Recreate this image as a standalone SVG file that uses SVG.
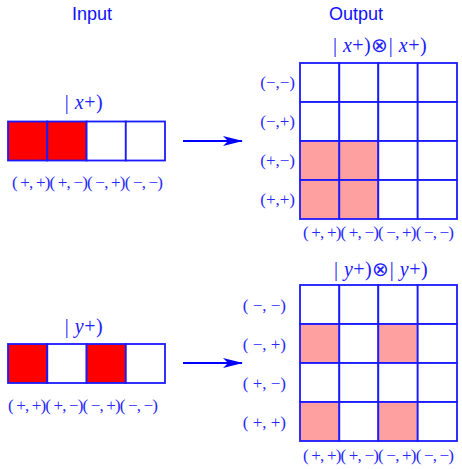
<svg xmlns="http://www.w3.org/2000/svg" width="462" height="469" viewBox="0 0 462 469">
<style>
.title{font-family:"Liberation Sans",Arial,sans-serif;font-size:18px;fill:#1010ff;text-anchor:middle}
.ket{font-family:"Liberation Serif","Times New Roman",serif;font-size:20px;fill:#2020ff;text-anchor:middle;letter-spacing:0.5px}
.lbl{font-family:"Liberation Serif","Times New Roman",serif;font-size:17px;fill:#2828ff}
.rl{font-family:"Liberation Serif","Times New Roman",serif;font-size:17px;fill:#2828ff;text-anchor:end}
.cell{fill:#fff;stroke:#1a1aff;stroke-width:1.8}
.red{fill:#ff0000;stroke:#1a1aff;stroke-width:1.8}
.pink{fill:#ffa0a0;stroke:#1a1aff;stroke-width:1.8}
.arr{stroke:#0000ff;stroke-width:2;fill:none}
</style>
<defs>
<marker id="ah" markerWidth="20" markerHeight="12" refX="19" refY="6" orient="auto" markerUnits="userSpaceOnUse">
<path d="M0,1 L20,6 L0,11 L5,6 Z" fill="#0000ff"/>
</marker>
</defs>
<text class="title" x="92" y="20">Input</text>
<text class="title" x="356" y="20">Output</text>

<g id="input-x">
<text class="ket" x="84" y="109">| <tspan font-style="italic">x</tspan>+)</text>
<rect class="red" x="8" y="121.5" width="39.3" height="39"/>
<rect class="red" x="47.3" y="121.5" width="39.3" height="39"/>
<rect class="cell" x="86.6" y="121.5" width="39.2" height="39"/>
<rect class="cell" x="125.8" y="121.5" width="39.2" height="39"/>
<text class="lbl" x="12" y="188" textLength="151" lengthAdjust="spacing">( +, +)( +, −)( −, +)( −, −)</text>
</g>

<g id="output-x">
<text class="ket" x="380" y="52">| <tspan font-style="italic">x</tspan>+)⊗| <tspan font-style="italic">x</tspan>+)</text>
<rect class="cell" x="300" y="63" width="39.3" height="39"/>
<rect class="cell" x="339.3" y="63" width="39" height="39"/>
<rect class="cell" x="378.3" y="63" width="39.4" height="39"/>
<rect class="cell" x="417.7" y="63" width="39.3" height="39"/>
<rect class="cell" x="300" y="102" width="39.3" height="39"/>
<rect class="cell" x="339.3" y="102" width="39" height="39"/>
<rect class="cell" x="378.3" y="102" width="39.4" height="39"/>
<rect class="cell" x="417.7" y="102" width="39.3" height="39"/>
<rect class="pink" x="300" y="141" width="39.3" height="39"/>
<rect class="pink" x="339.3" y="141" width="39" height="39"/>
<rect class="cell" x="378.3" y="141" width="39.4" height="39"/>
<rect class="cell" x="417.7" y="141" width="39.3" height="39"/>
<rect class="pink" x="300" y="180" width="39.3" height="39"/>
<rect class="pink" x="339.3" y="180" width="39" height="39"/>
<rect class="cell" x="378.3" y="180" width="39.4" height="39"/>
<rect class="cell" x="417.7" y="180" width="39.3" height="39"/>
<text class="rl" x="295" y="88">(−,−)</text>
<text class="rl" x="295" y="127">(−,+)</text>
<text class="rl" x="295" y="166">(+,−)</text>
<text class="rl" x="295" y="205">(+,+)</text>
<text class="lbl" x="303" y="238" textLength="151" lengthAdjust="spacing">( +, +)( +, −)( −, +)( −, −)</text>
</g>

<g id="input-y">
<text class="ket" x="84" y="333">| <tspan font-style="italic">y</tspan>+)</text>
<rect class="red" x="8" y="344" width="39.3" height="39"/>
<rect class="cell" x="47.3" y="344" width="39.3" height="39"/>
<rect class="red" x="86.6" y="344" width="39.2" height="39"/>
<rect class="cell" x="125.8" y="344" width="39.2" height="39"/>
<text class="lbl" x="8" y="411" textLength="150" lengthAdjust="spacing">( +, +)( +, −)( −, +)( −, −)</text>
</g>

<g id="output-y">
<text class="ket" x="381" y="276">| <tspan font-style="italic">y</tspan>+)⊗| <tspan font-style="italic">y</tspan>+)</text>
<rect class="cell" x="300" y="285" width="39.3" height="39"/>
<rect class="cell" x="339.3" y="285" width="39" height="39"/>
<rect class="cell" x="378.3" y="285" width="39.4" height="39"/>
<rect class="cell" x="417.7" y="285" width="39.3" height="39"/>
<rect class="pink" x="300" y="324" width="39.3" height="39"/>
<rect class="cell" x="339.3" y="324" width="39" height="39"/>
<rect class="pink" x="378.3" y="324" width="39.4" height="39"/>
<rect class="cell" x="417.7" y="324" width="39.3" height="39"/>
<rect class="cell" x="300" y="363" width="39.3" height="39"/>
<rect class="cell" x="339.3" y="363" width="39" height="39"/>
<rect class="cell" x="378.3" y="363" width="39.4" height="39"/>
<rect class="cell" x="417.7" y="363" width="39.3" height="39"/>
<rect class="pink" x="300" y="402" width="39.3" height="39"/>
<rect class="cell" x="339.3" y="402" width="39" height="39"/>
<rect class="pink" x="378.3" y="402" width="39.4" height="39"/>
<rect class="cell" x="417.7" y="402" width="39.3" height="39"/>
<text class="rl" x="286" y="311">( −, −)</text>
<text class="rl" x="286" y="350">( −, +)</text>
<text class="rl" x="286" y="389">( +, −)</text>
<text class="rl" x="286" y="428">( +, +)</text>
<text class="lbl" x="303" y="461" textLength="151" lengthAdjust="spacing">( +, +)( +, −)( −, +)( −, −)</text>
</g>

<g id="connectors">
<line class="arr" x1="183" y1="141" x2="242" y2="141" marker-end="url(#ah)"/>
<line class="arr" x1="183" y1="363" x2="242" y2="363" marker-end="url(#ah)"/>
</g>
</svg>
